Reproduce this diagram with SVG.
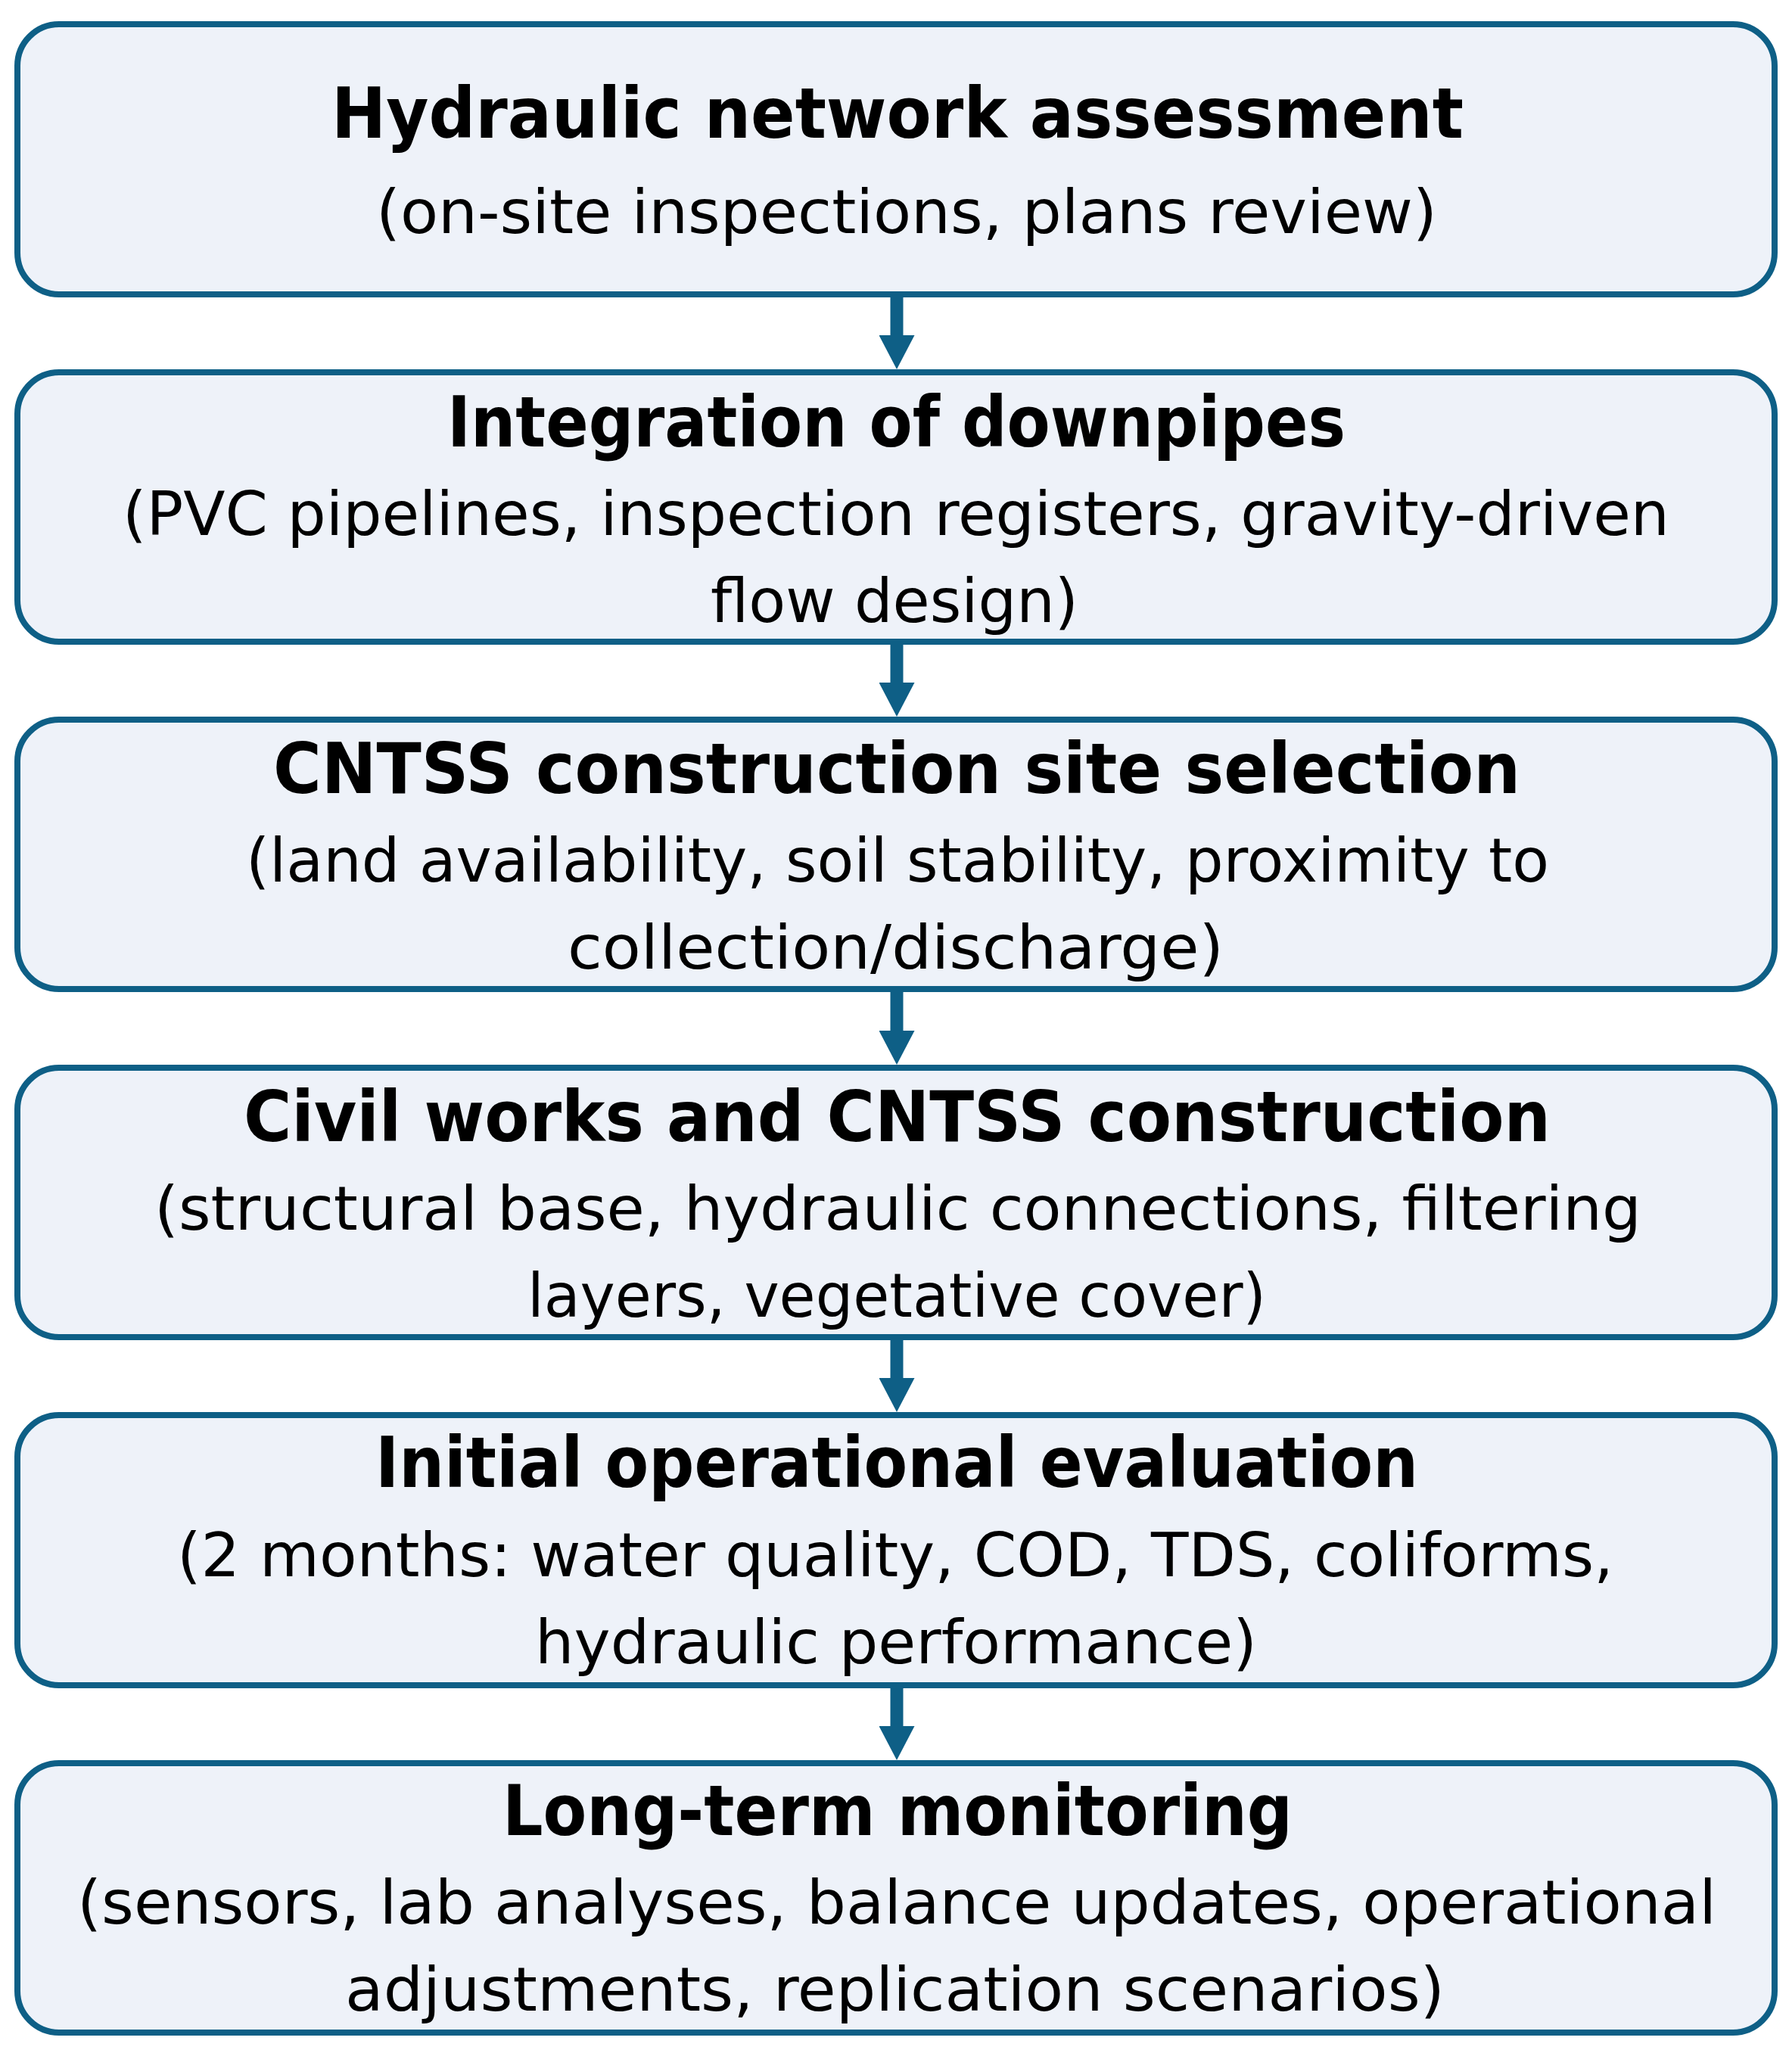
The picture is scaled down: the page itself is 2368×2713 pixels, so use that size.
<svg xmlns="http://www.w3.org/2000/svg" width="2368" height="2713" viewBox="0 0 2368 2713">
  <style>
    .box { fill: #EEF2F9; stroke: #0E5F86; stroke-width: 8; }
    .title { font-family: "DejaVu Sans", "Liberation Sans", sans-serif; font-weight: bold; font-size: 92px; fill: #000000; }
    .sub { font-family: "DejaVu Sans", "Liberation Sans", sans-serif; font-size: 80px; fill: #000000; }
    .conn { stroke: #0E5F86; stroke-width: 17; fill: none; }
  </style>
  <defs>
    <marker id="head" viewBox="0 0 45 47" refX="0" refY="23.5" markerWidth="45" markerHeight="47" markerUnits="userSpaceOnUse" orient="auto">
      <path d="M0,0 L45,23.5 L0,47 Z" fill="#0E5F86"/>
    </marker>
  </defs>
  <rect width="2368" height="2713" fill="#FFFFFF"/>

  <g id="node1">
    <rect class="box" x="23" y="32" width="2322" height="357" rx="55" ry="55"/>
    <text class="title" x="438" y="182" textLength="1496" lengthAdjust="spacingAndGlyphs">Hydraulic network assessment</text>
    <text class="sub" x="497" y="308" textLength="1402" lengthAdjust="spacingAndGlyphs">(on-site inspections, plans review)</text>
  </g>

  <g id="node2">
    <rect class="box" x="23" y="492" width="2322" height="356" rx="55" ry="55"/>
    <text class="title" x="591" y="590" textLength="1187" lengthAdjust="spacingAndGlyphs">Integration of downpipes</text>
    <text class="sub" x="162" y="707" textLength="2044" lengthAdjust="spacingAndGlyphs">(PVC pipelines, inspection registers, gravity-driven</text>
    <text class="sub" x="939" y="822" textLength="486" lengthAdjust="spacingAndGlyphs">flow design)</text>
  </g>

  <g id="node3">
    <rect class="box" x="23" y="951" width="2322" height="356" rx="55" ry="55"/>
    <text class="title" x="361" y="1048" textLength="1648" lengthAdjust="spacingAndGlyphs">CNTSS construction site selection</text>
    <text class="sub" x="325" y="1165" textLength="1722" lengthAdjust="spacingAndGlyphs">(land availability, soil stability, proximity to</text>
    <text class="sub" x="750" y="1280" textLength="867" lengthAdjust="spacingAndGlyphs">collection/discharge)</text>
  </g>

  <g id="node4">
    <rect class="box" x="23" y="1411" width="2322" height="356" rx="55" ry="55"/>
    <text class="title" x="322" y="1508" textLength="1727" lengthAdjust="spacingAndGlyphs">Civil works and CNTSS construction</text>
    <text class="sub" x="204" y="1625" textLength="1965" lengthAdjust="spacingAndGlyphs">(structural base, hydraulic connections, filtering</text>
    <text class="sub" x="697" y="1740" textLength="976" lengthAdjust="spacingAndGlyphs">layers, vegetative cover)</text>
  </g>

  <g id="node5">
    <rect class="box" x="23" y="1870" width="2322" height="357" rx="55" ry="55"/>
    <text class="title" x="496" y="1965" textLength="1378" lengthAdjust="spacingAndGlyphs">Initial operational evaluation</text>
    <text class="sub" x="234" y="2083" textLength="1898" lengthAdjust="spacingAndGlyphs">(2 months: water quality, COD, TDS, coliforms,</text>
    <text class="sub" x="707" y="2198" textLength="954" lengthAdjust="spacingAndGlyphs">hydraulic performance)</text>
  </g>

  <g id="node6">
    <rect class="box" x="23" y="2330" width="2322" height="356" rx="55" ry="55"/>
    <text class="title" x="664" y="2425" textLength="1044" lengthAdjust="spacingAndGlyphs">Long-term monitoring</text>
    <text class="sub" x="102" y="2542" textLength="2166" lengthAdjust="spacingAndGlyphs">(sensors, lab analyses, balance updates, operational</text>
    <text class="sub" x="456" y="2657" textLength="1453" lengthAdjust="spacingAndGlyphs">adjustments, replication scenarios)</text>
  </g>

  <g id="connectors">
    <line class="conn" x1="1185" y1="389" x2="1185" y2="443" marker-end="url(#head)"/>
    <line class="conn" x1="1185" y1="848" x2="1185" y2="902" marker-end="url(#head)"/>
    <line class="conn" x1="1185" y1="1307" x2="1185" y2="1362" marker-end="url(#head)"/>
    <line class="conn" x1="1185" y1="1767" x2="1185" y2="1821" marker-end="url(#head)"/>
    <line class="conn" x1="1185" y1="2227" x2="1185" y2="2281" marker-end="url(#head)"/>
  </g>
</svg>
